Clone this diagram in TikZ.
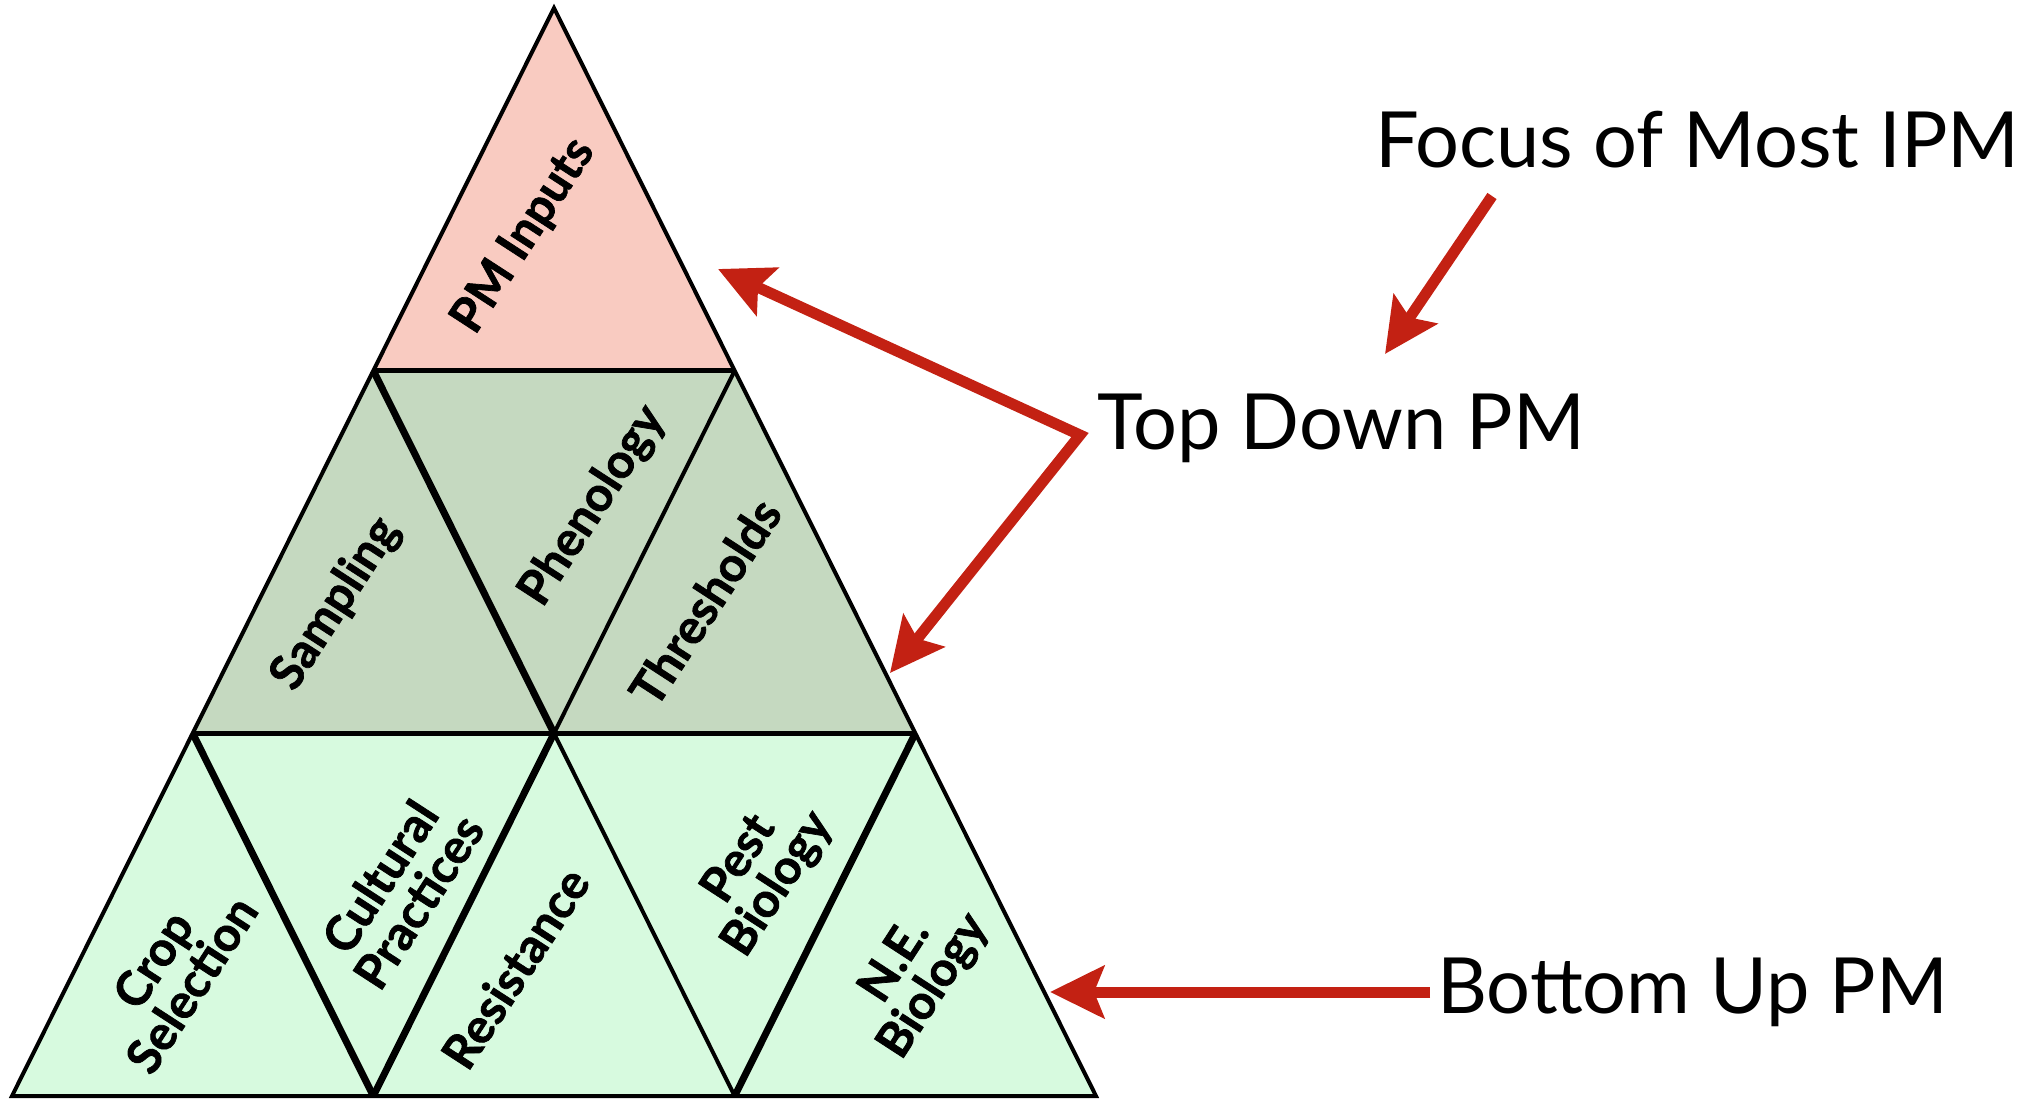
\documentclass[tikz,border=0pt]{standalone}
\usepackage{fontspec}
\setmainfont{Lato}
\newfontfamily\lblfont{Lato}[FakeBold=1.5]
\usetikzlibrary{arrows.meta}
\definecolor{topfill}{HTML}{F9CBC1}
\definecolor{midfill}{HTML}{C5D9C0}
\definecolor{lowfill}{HTML}{D7FADF}
\definecolor{arrowred}{HTML}{C32113}
\tikzset{redtip/.tip={Stealth[length=54pt,width=52pt,inset=10pt]}}
\begin{document}
\begin{tikzpicture}[x=1pt,y=-1pt,
  thinedge/.style={line width=4pt, line join=miter},
  thickedge/.style={line width=7pt},
  rowline/.style={line width=5.5pt},
  lbl/.style={font=\lblfont\bfseries\fontsize{48}{46}\selectfont, rotate=57, align=center, inner sep=0pt},
  caption/.style={font=\fontsize{77.5}{78}\selectfont, anchor=base west, inner sep=0pt},
  redline/.style={draw=arrowred, line width=11pt, line join=miter}]
\useasboundingbox (0,0) rectangle (2032,1098);
% geometry
\coordinate (A) at (554,8);
\coordinate (L1) at (373.33,370.67);
\coordinate (R1) at (734.67,370.67);
\coordinate (L2) at (192.67,733.33);
\coordinate (M2) at (554,733.33);
\coordinate (R2) at (915.33,733.33);
\coordinate (B0) at (12,1096);
\coordinate (B1) at (373.33,1096);
\coordinate (B2) at (734.67,1096);
\coordinate (B3) at (1096,1096);
% fills
\fill[topfill] (A) -- (L1) -- (R1) -- cycle;
\fill[midfill] (L1) -- (R1) -- (R2) -- (L2) -- cycle;
\fill[lowfill] (L2) -- (R2) -- (B3) -- (B0) -- cycle;
% edges
\draw[thinedge] (R1) -- (M2);
\draw[thinedge] (M2) -- (B2);
\draw[thickedge] (L1) -- (M2);
\draw[thickedge] (L2) -- (B1);
\draw[thickedge] (M2) -- (B1);
\draw[thickedge] (R2) -- (B2);
\draw[rowline] (L1) -- (R1);
\draw[rowline] (L2) -- (R2);
\draw[thinedge] (A) -- (B0) -- (B3) -- cycle;
% labels
\node[lbl] (pminputs) at (524,236) {PM Inputs};
\node[lbl] (sampling) at (336,604) {Sampling};
\node[lbl] (phenology) at (593,506) {Phenology};
\node[lbl] (thresholds) at (705,602) {Thresholds};
\node[lbl] (crop) at (172,972) {Crop\\Selection};
\node[lbl] (cultural) at (399,889) {Cultural\\Practices};
\node[lbl] (resistance) at (515,968) {Resistance};
\node[lbl] (pest) at (759,872) {Pest\\Biology};
\node[lbl] (ne) at (915,974) {N.E.\\Biology};
% captions
\node[caption] (focus) at (1375,167) {Focus of Most IPM};
\node[caption] (topdown) at (1097,449) {Top Down PM};
\node[caption] (bottomup) at (1437,1013) {Bottom Up PM};
% arrows
\coordinate (focustail) at (1492,196);
\coordinate (focustip) at (1385,354);
\coordinate (tdcorner) at (1080,435);
\coordinate (tdtipa) at (718,269);
\coordinate (tdtipb) at (890,673);
\coordinate (butail) at (1430,992);
\coordinate (butip) at (1050,992);
\draw[redline,-redtip] (focustail) -- (focustip);
\draw[redline,redtip-redtip] (tdtipa) -- (tdcorner) -- (tdtipb);
\draw[redline,-redtip] (butail) -- (butip);
\end{tikzpicture}
\end{document}
